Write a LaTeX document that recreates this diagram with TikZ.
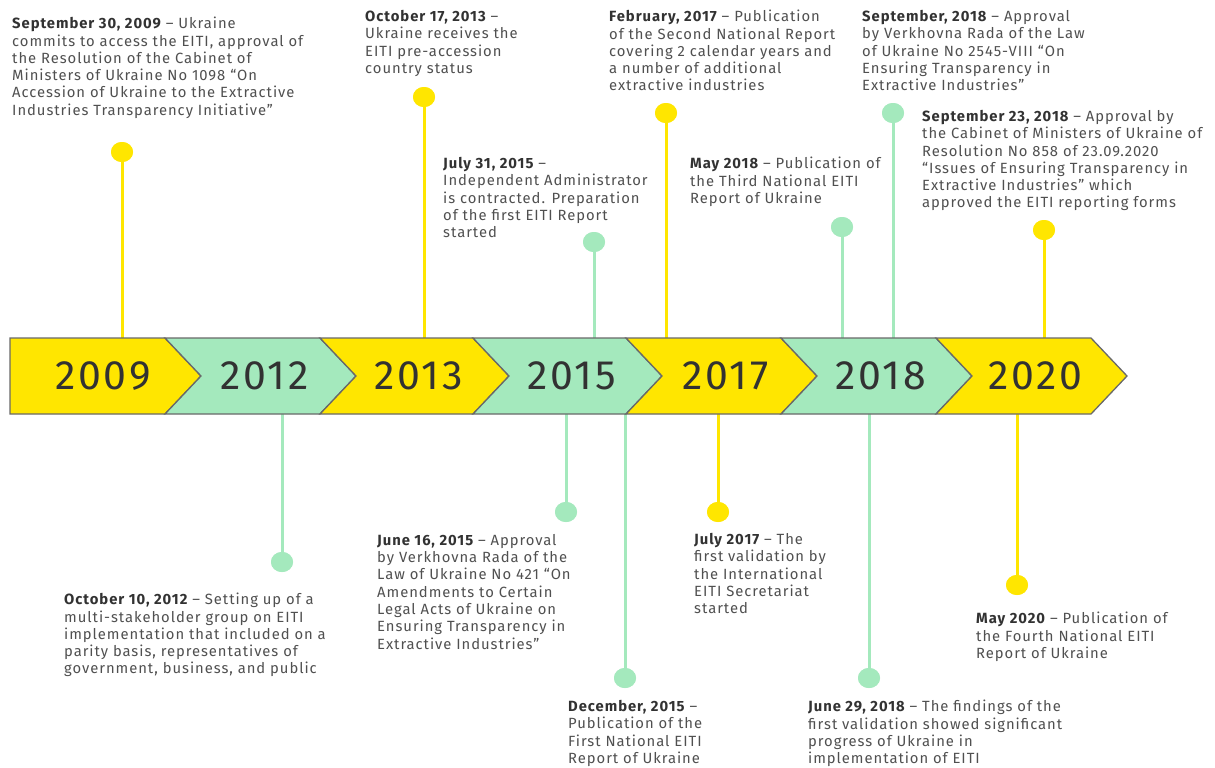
\documentclass[tikz,border=0pt]{standalone}
\usepackage{fontspec}
\setmainfont{Fira Sans}[LetterSpace=6.5]
\usetikzlibrary{shapes.geometric}
\definecolor{eyyellow}{RGB}{255,230,0}
\definecolor{eygreen}{RGB}{164,233,189}
\definecolor{txt}{RGB}{80,80,80}
\definecolor{dark}{RGB}{50,50,50}
\definecolor{edge}{RGB}{105,105,105}
\newcommand{\dt}[1]{{\bfseries\color{dark}#1}}
\begin{document}
\begin{tikzpicture}[x=1pt,y=-1pt,
  evt/.style={anchor=north west, align=left, inner sep=0pt,
    font=\fontsize{14.8}{17.3}\selectfont, text=txt},
  yearlbl/.style={inner sep=0pt, font=\fontsize{41}{41}\selectfont, text=dark},
  dotstyle/.style={ellipse, inner sep=0pt, minimum width=22pt, minimum height=20pt, fill=#1},
  stem/.style={line width=3pt, draw=#1},
  seg/.style={fill=#1, draw=edge, line width=1.3pt, line join=miter}]
\useasboundingbox[fill=white] (0,0) rectangle (1215,768);
\coordinate (bandN) at (0,338);
\coordinate (bandS) at (0,414);

% stems and dots
\foreach \n/\x/\y/\c/\side in {1/122/152/eyyellow/N, 2/424/97/eyyellow/N, 3/594/242/eygreen/N,
  4/666/113/eyyellow/N, 5/842/227/eygreen/N, 6/893/113/eygreen/N, 7/1044/230/eyyellow/N,
  8/282/562/eygreen/S, 9/566/512/eygreen/S, 10/625/678/eygreen/S, 11/718/512/eyyellow/S,
  12/869/678/eygreen/S, 13/1017/585/eyyellow/S}{
  \node[dotstyle=\c] (d\n) at (\x,\y) {};
  \draw[stem=\c] (d\n.center) -- (d\n.center |- band\side);
  \node[dotstyle=\c] at (d\n) {};
}

% band
\draw[seg=eyyellow] (10,338) -- (165,338) -- (201,376) -- (165,414) -- (10,414) -- cycle;
\foreach \L/\R/\c in {165/320/eygreen, 320/473/eyyellow, 473/626/eygreen,
  626/781/eyyellow, 781/936/eygreen, 936/1091/eyyellow}{
  \draw[seg=\c] (\L,338) -- (\R,338) -- (\R+36,376) -- (\R,414) -- (\L,414) -- (\L+36,376) -- cycle;
}
\node[yearlbl] (y2009) at (103,376) {2009};
\node[yearlbl] (y2012) at (264.5,376) {2012};
\node[yearlbl] (y2013) at (418.5,376) {2013};
\node[yearlbl] (y2015) at (571.5,376) {2015};
\node[yearlbl] (y2017) at (725.5,376) {2017};
\node[yearlbl] (y2018) at (880.5,376) {2018};
\node[yearlbl] (y2020) at (1035.5,376) {2020};

% texts above
\node[evt] (t1) at (12,17) {\dt{September 30, 2009} – Ukraine\\commits to access the EITI, approval of\\the Resolution of the Cabinet of\\Ministers of Ukraine No 1098 “On\\Accession of Ukraine to the Extractive\\Industries Transparency Initiative”};
\node[evt] (t2) at (365,10) {\dt{October 17, 2013} –\\Ukraine receives the\\EITI pre-accession\\country status};
\node[evt] (t3) at (443,157) {\dt{July 31, 2015} –\\Independent Administrator\\is contracted. Preparation\\of the first EITI Report\\started};
\node[evt] (t4) at (609,10) {\dt{February, 2017} – Publication\\of the Second National Report\\covering 2 calendar years and\\a number of additional\\extractive industries};
\node[evt] (t5) at (690,157) {\dt{May 2018} – Publication of\\the Third National EITI\\Report of Ukraine};
\node[evt] (t6) at (862,10) {\dt{September, 2018} – Approval\\by Verkhovna Rada of the Law\\of Ukraine No 2545-VIII “On\\Ensuring Transparency in\\Extractive Industries”};
\node[evt] (t7) at (922,110) {\dt{September 23, 2018} – Approval by\\the Cabinet of Ministers of Ukraine of\\Resolution No 858 of 23.09.2020\\“Issues of Ensuring Transparency in\\Extractive Industries” which\\approved the EITI reporting forms};

% texts below
\node[evt] (t8) at (64,593) {\dt{October 10, 2012} – Setting up of a\\multi-stakeholder group on EITI\\implementation that included on a\\parity basis, representatives of\\government, business, and public};
\node[evt] (t9) at (377,534) {\dt{June 16, 2015} – Approval\\by Verkhovna Rada of the\\Law of Ukraine No 421 “On\\Amendments to Certain\\Legal Acts of Ukraine on\\Ensuring Transparency in\\Extractive Industries”};
\node[evt] (t10) at (568,700) {\dt{December, 2015} –\\Publication of the\\First National EITI\\Report of Ukraine};
\node[evt] (t11) at (694,533) {\dt{July 2017} – The\\first validation by\\the International\\EITI Secretariat\\started};
\node[evt] (t12) at (808,700) {\dt{June 29, 2018} – The findings of the\\first validation showed significant\\progress of Ukraine in\\implementation of EITI};
\node[evt] (t13) at (976,612) {\dt{May 2020} – Publication of\\the Fourth National EITI\\Report of Ukraine};
\end{tikzpicture}
\end{document}
